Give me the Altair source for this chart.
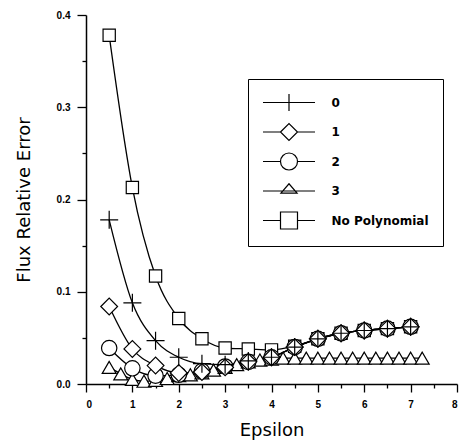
import altair as alt
import pandas as pd

# ---- data ----
series_names = ["0", "1", "2", "3", "No Polynomial"]

eps_half = [0.5, 1.0, 1.5, 2.0, 2.5, 3.0, 3.5, 4.0, 4.5, 5.0, 5.5, 6.0, 6.5, 7.0]
err_0 = [0.178, 0.088, 0.047, 0.029, 0.022, 0.021, 0.025, 0.029, 0.040, 0.049, 0.055, 0.058, 0.060, 0.062]
err_1 = [0.084, 0.038, 0.020, 0.012, 0.013, 0.018, 0.024, 0.029, 0.040, 0.049, 0.055, 0.058, 0.060, 0.062]
err_2 = [0.039, 0.017, 0.009, 0.010, 0.014, 0.019, 0.024, 0.029, 0.040, 0.049, 0.055, 0.058, 0.060, 0.062]
err_np = [0.378, 0.213, 0.117, 0.071, 0.049, 0.039, 0.038, 0.037, 0.041, 0.049, 0.055, 0.058, 0.060, 0.062]

eps_quarter = [0.5, 0.75, 1.0, 1.25, 1.5, 1.75, 2.0, 2.25, 2.5, 2.75, 3.0, 3.25, 3.5, 3.75,
               4.0, 4.25, 4.5, 4.75, 5.0, 5.25, 5.5, 5.75, 6.0, 6.25, 6.5, 6.75, 7.0, 7.25]
err_3 = [0.018, 0.011, 0.005, 0.003, 0.004, 0.006, 0.009, 0.010, 0.012, 0.015, 0.018, 0.021, 0.024, 0.026,
         0.027, 0.028, 0.028, 0.028, 0.028, 0.028, 0.028, 0.028, 0.028, 0.028, 0.028, 0.028, 0.028, 0.028]

x_ticks = [0, 0.5, 1, 1.5, 2, 2.5, 3, 3.5, 4, 4.5, 5, 5.5, 6, 6.5, 7, 7.5, 8]
y_ticks = [0.0, 0.05, 0.1, 0.15, 0.2, 0.25, 0.3, 0.35, 0.4]

rows = []
# drawing order: squares underneath, plus signs on top
for name, xs, ys in [("No Polynomial", eps_half, err_np), ("3", eps_quarter, err_3),
                     ("2", eps_half, err_2), ("1", eps_half, err_1), ("0", eps_half, err_0)]:
    for x, y in zip(xs, ys):
        rows.append({"eps": x, "err": y, "series": name})
df = pd.DataFrame(rows)

# marker shapes in the plot
plus_path = "M-1,0L1,0M0,-1L0,1"
marker_shapes = [plus_path, "diamond", "circle", "triangle-up", "square"]
marker_sizes = [324, 150, 100, 65, 80]

# legend symbols: shape with a line through it (unit = half of the 17px symbol)
L = 3.06
legend_paths = [
    f"M-{L},0L{L},0M0,-1L0,1",
    f"M-{L},0L-1,0M1,0L{L},0M-1,0L0,-1L1,0L0,1Z",
    f"M-{L},0L-1,0M1,0L{L},0M-1,0A1,1 0 1,1 1,0A1,1 0 1,1 -1,0Z",
    f"M-{L},0L{L},0M-0.95,0.25L0,-0.85L0.95,0.25ZM0,1L0,1M0,-1L0,-1",
    f"M-{L},0L-1,0M1,0L{L},0M-1,-1L1,-1L1,1L-1,1Z",
]

x_enc = alt.X(
    "eps:Q",
    scale=alt.Scale(domain=[0, 8], nice=False, zero=False),
    axis=alt.Axis(
        title="Epsilon",
        values=x_ticks,
        labelExpr="datum.value % 1 ? '' : format(datum.value, 'd')",
        tickSize={"condition": {"test": "datum.value % 1 != 0", "value": 4}, "value": 8},
        labelPadding=7,
        titlePadding=12,
    ),
)
y_enc = alt.Y(
    "err:Q",
    scale=alt.Scale(domain=[0, 0.4], nice=False),
    axis=alt.Axis(
        title="Flux Relative Error",
        values=y_ticks,
        labelExpr="round(datum.value * 20) % 2 ? '' : format(datum.value, '.1f')",
        tickSize={"condition": {"test": "round(datum.value * 20) % 2 == 1", "value": 4}, "value": 9},
        labelPadding=7,
        titlePadding=23,
    ),
)

lines = alt.Chart(df).mark_line(color="black", strokeWidth=1.3, interpolate="monotone").encode(
    x=x_enc, y=y_enc, detail="series:N"
)

points = alt.Chart(df).mark_point(
    filled=True, fill="white", stroke="black", strokeWidth=1.2, opacity=1
).encode(
    x=x_enc,
    y=y_enc,
    shape=alt.Shape("series:N", scale=alt.Scale(domain=series_names, range=marker_shapes), legend=None),
    size=alt.Size("series:O", scale=alt.Scale(domain=series_names, range=marker_sizes), legend=None),
)

legend_layer = alt.Chart(df).transform_filter("datum.eps < -100").mark_point(
    filled=False, color="black", strokeWidth=1.2, opacity=1, size=289
).encode(
    x=x_enc,
    y=y_enc,
    shape=alt.Shape(
        "series:N",
        scale=alt.Scale(domain=series_names, range=legend_paths),
        legend=alt.Legend(
            title=None,
            orient="none",
            legendX=162,
            legendY=64,
            strokeColor="black",
            padding=14,
            symbolOffset=17.5,
            labelOffset=33,
            rowPadding=6.5,
            labelFont="DejaVu Sans",
            labelFontWeight="bold",
            labelFontSize=12,
            labelColor="black",
            symbolSize=289,
            symbolStrokeWidth=1.2,
            symbolStrokeColor="black",
            symbolOpacity=1,
        ),
    ),
)

chart = (
    alt.layer(lines, points, legend_layer)
    .resolve_scale(shape="independent", size="independent")
    .properties(
        width=371,
        height=369,
        padding={"left": 86, "top": 15, "right": 2, "bottom": 62},
        autosize="none",
    )
    .configure_view(stroke=None)
    .configure_axis(
        grid=False,
        domainColor="black",
        domainWidth=1.5,
        tickColor="black",
        tickWidth=1.3,
        labelFont="Liberation Sans",
        labelFontWeight="bold",
        labelFontSize=10,
        labelColor="black",
        titleFont="DejaVu Sans",
        titleFontWeight="normal",
        titleFontSize=18,
        titleColor="black",
    )
)

chart.save("out.html", embed_options={"renderer": "svg", "actions": False})
